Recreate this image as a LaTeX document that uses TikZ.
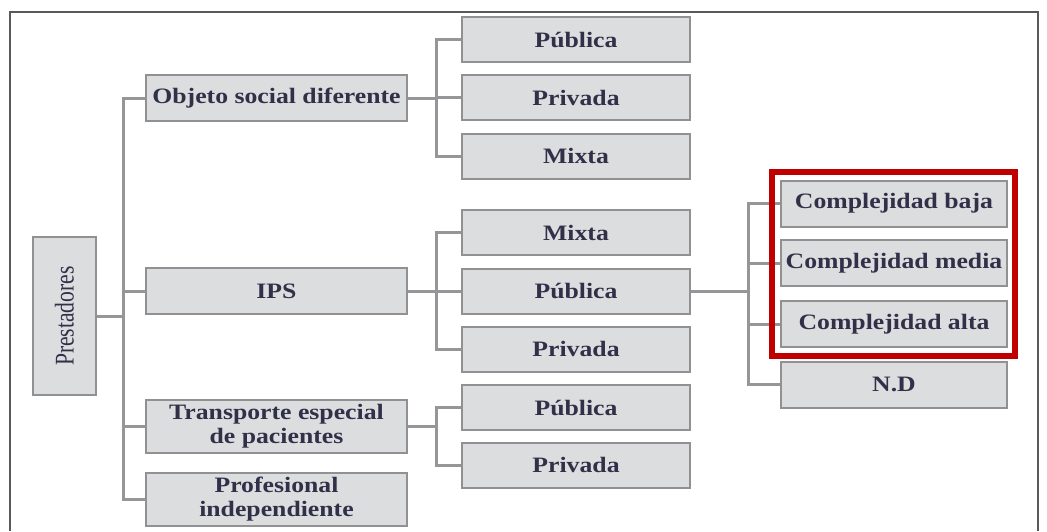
\documentclass[tikz,border=0pt]{standalone}
\usepackage{fontspec}
\setmainfont{Liberation Serif}[FakeStretch=1.17]
\newfontfamily\condensada{Liberation Serif}[FakeStretch=0.8]
\definecolor{boxfill}{RGB}{220,221,223}
\definecolor{boxline}{RGB}{145,145,148}
\definecolor{edgeline}{RGB}{150,150,152}
\definecolor{labeltext}{RGB}{48,48,72}
\definecolor{markred}{RGB}{192,0,0}
\tikzstyle{caja}=[draw=boxline,line width=2pt,fill=boxfill,inner sep=0pt,text=labeltext,font=\fontsize{22}{24}\selectfont\bfseries,align=center]
\tikzstyle{nivel1}=[caja,minimum width=261pt,minimum height=46pt]
\tikzstyle{nivel2}=[caja,minimum width=228pt,minimum height=45pt]
\tikzstyle{nivel3}=[caja,minimum width=226pt,minimum height=46pt]
\tikzstyle{edge} = [draw=edgeline,line width=3pt,-]

\begin{document}
\begin{tikzpicture}[x=1pt,y=-1pt]
			\useasboundingbox (0,0) rectangle (1047,531);
			% outer frame, open at the bottom
			\draw[line width=2pt,draw=black!65] (10,531) -- (10,12) -- (1038,12) -- (1038,531);
			% root and first level
			\node[caja,minimum width=63pt,minimum height=158pt,font=\fontsize{27}{29}\condensada] (prest) at (64.5,316) {\rotatebox{90}{Prestadores}};
			\node[nivel1] (objeto) at (276.5,98) {Objeto social diferente};
			\node[nivel1] (ips) at (276.5,291) {IPS};
			\node[nivel1,minimum height=53pt] (transp) at (276.5,426.5) {Transporte especial\\de pacientes};
			\node[nivel1,minimum height=53pt] (prof) at (276.5,499.5) {Profesional\\independiente};
			% second level
			\node[nivel2] (pub1) at (576,39.5) {Pública};
			\node[nivel2] (priv1) at (576,97.5) {Privada};
			\node[nivel2] (mix1) at (576,156) {Mixta};
			\node[nivel2] (mix2) at (576,232.5) {Mixta};
			\node[nivel2] (pub2) at (576,291) {Pública};
			\node[nivel2] (priv2) at (576,349) {Privada};
			\node[nivel2] (pub3) at (576,407.5) {Pública};
			\node[nivel2] (priv3) at (576,465) {Privada};
			% third level
			\node[nivel3] (baja) at (894,203.5) {Complejidad baja};
			\node[nivel3] (media) at (894,263) {Complejidad media};
			\node[nivel3] (alta) at (894,324) {Complejidad alta};
			\node[nivel3] (nd) at (894,384.5) {N.D};
			% x of each branch line
			\coordinate (b0) at (123,0);
			\coordinate (b1) at (436,0);
			\coordinate (b2) at (748,0);
			% Connect parents with children
			\foreach \source/ \dest/ \bx in {prest/objeto/b0, prest/ips/b0, prest/transp/b0, prest/prof/b0,
					objeto/pub1/b1, objeto/priv1/b1, objeto/mix1/b1, ips/mix2/b1, ips/pub2/b1, ips/priv2/b1,
					transp/pub3/b1, transp/priv3/b1, pub2/baja/b2, pub2/media/b2, pub2/alta/b2, pub2/nd/b2}
				\path[edge] (\source.east) -- (\source.east -| \bx) |- (\dest.west);
			% red highlight
			\draw[markred,line width=6pt] (772,172) rectangle (1015,356);
		\end{tikzpicture}
\end{document}
